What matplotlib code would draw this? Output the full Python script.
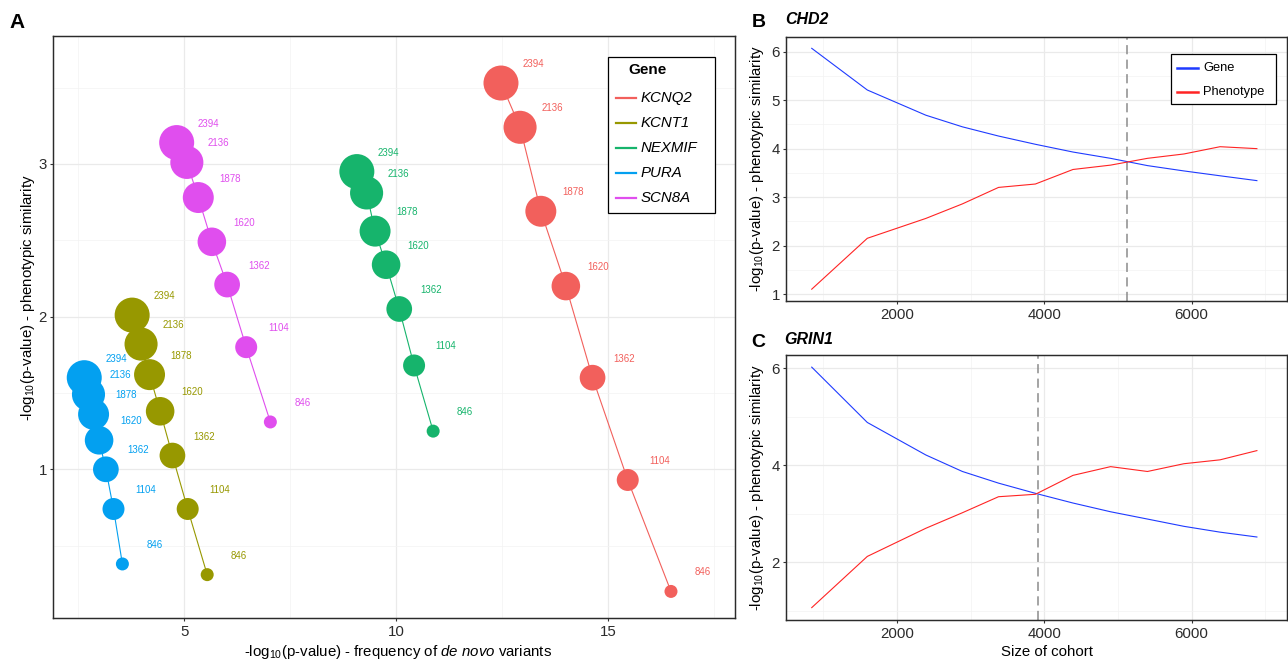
import numpy as np
import matplotlib
matplotlib.use("Agg")
import matplotlib.pyplot as plt
from matplotlib.lines import Line2D
from matplotlib.patches import Rectangle
from matplotlib.ticker import FixedLocator

plt.rcParams.update({
    "font.family": ["Liberation Sans", "DejaVu Sans"],
    "mathtext.fontset": "custom",
    "mathtext.rm": "Liberation Sans",
    "mathtext.it": "Liberation Sans:italic",
    "mathtext.bf": "Liberation Sans:bold",
})

# ---------------- Panel A data ----------------
cohort_sizes = [846, 1104, 1362, 1620, 1878, 2136, 2394]
genes = ["KCNQ2", "KCNT1", "NEXMIF", "PURA", "SCN8A"]
gene_colors = ["#F2605C", "#979800", "#16B46C", "#03A0F0", "#E04EEE"]

kcnq2_freq = [16.48, 15.46, 14.63, 14.00, 13.41, 12.92, 12.47]
kcnq2_pheno = [0.20, 0.93, 1.60, 2.20, 2.69, 3.24, 3.53]
kcnt1_freq = [5.54, 5.08, 4.72, 4.43, 4.18, 3.98, 3.77]
kcnt1_pheno = [0.31, 0.74, 1.09, 1.38, 1.62, 1.82, 2.01]
nexmif_freq = [10.87, 10.42, 10.07, 9.76, 9.50, 9.30, 9.07]
nexmif_pheno = [1.25, 1.68, 2.05, 2.34, 2.56, 2.81, 2.95]
pura_freq = [3.54, 3.33, 3.15, 2.99, 2.86, 2.74, 2.64]
pura_pheno = [0.38, 0.74, 1.00, 1.19, 1.36, 1.49, 1.60]
scn8a_freq = [7.03, 6.46, 6.01, 5.65, 5.33, 5.06, 4.82]
scn8a_pheno = [1.31, 1.80, 2.21, 2.49, 2.78, 3.01, 3.14]

freq_all = [kcnq2_freq, kcnt1_freq, nexmif_freq, pura_freq, scn8a_freq]
pheno_all = [kcnq2_pheno, kcnt1_pheno, nexmif_pheno, pura_pheno, scn8a_pheno]

# ---------------- Panels B / C data ----------------
cohort_bc = [846, 1600, 2394, 2890, 3380, 3880, 4390, 4900, 5400, 5895, 6385, 6885]
chd2_gene = [6.07, 5.21, 4.69, 4.45, 4.26, 4.09, 3.93, 3.80, 3.65, 3.54, 3.44, 3.34]
chd2_pheno = [1.10, 2.15, 2.56, 2.86, 3.20, 3.27, 3.57, 3.66, 3.80, 3.89, 4.04, 4.00]
chd2_cross = 5120
grin1_gene = [6.02, 4.88, 4.21, 3.87, 3.63, 3.42, 3.22, 3.04, 2.89, 2.74, 2.62, 2.52]
grin1_pheno = [1.065, 2.12, 2.70, 3.02, 3.35, 3.40, 3.79, 3.97, 3.87, 4.03, 4.11, 4.30]
grin1_cross = 3915
series_labels = ["Gene", "Phenotype"]
series_colors = ["#1F3BFF", "#FF2424"]

W, H = 1288, 663
fig = plt.figure(figsize=(W / 100, H / 100), dpi=100)


def fx(px):
    return px / W


def fy(py):
    return 1 - py / H


def axes_px(l, t, r, b):
    return fig.add_axes([fx(l), fy(b), (r - l) / W, (b - t) / H])


def style(ax):
    ax.set_facecolor("white")
    for s in ax.spines.values():
        s.set_color("#2B2B2B")
        s.set_linewidth(1.05)
    ax.grid(which="major", color="#EAEAEA", lw=0.9)
    ax.grid(which="minor", color="#F3F3F3", lw=0.5)
    ax.set_axisbelow(True)
    ax.tick_params(which="major", length=2.5, width=0.8, color="#333333",
                   labelsize=10.8, labelcolor="#2B2B2B", pad=2.2)
    ax.tick_params(which="minor", length=0)


ylab = r"-log$_{10}$(p-value) - phenotypic similarity"

# ---------------- Panel A ----------------
axA = axes_px(53.3, 35.7, 735, 618.3)
style(axA)
axA.set_xlim(1.91, 17.99)
axA.set_ylim(0.024, 3.84)
axA.xaxis.set_major_locator(FixedLocator([5, 10, 15]))
axA.xaxis.set_minor_locator(FixedLocator([2.5, 7.5, 12.5, 17.5]))
axA.yaxis.set_major_locator(FixedLocator([1, 2, 3]))
axA.yaxis.set_minor_locator(FixedLocator([0.5, 1.5, 2.5, 3.5]))


def diam_px(v):
    return 13 + 22 * np.sqrt((v - 846) / (2394 - 846))


sizes = [(diam_px(v) * 0.72) ** 2 for v in cohort_sizes]

for g, col, xs, ys in zip(genes, gene_colors, freq_all, pheno_all):
    axA.plot(xs, ys, color=col, lw=0.8, zorder=2)
    axA.scatter(xs, ys, s=sizes, color=col, edgecolors="none", zorder=3)
    for x, y, c in zip(xs, ys, cohort_sizes):
        axA.annotate(str(c), (x, y), xytext=(32, 19), textcoords="offset pixels",
                     ha="center", va="center", fontsize=7, color=col, zorder=4)

axA.set_xlabel(r"-log$_{10}$(p-value) - frequency of $\mathit{de\ novo}$ variants",
               fontsize=10.8)
axA.xaxis.set_label_coords(0.505, -(643 - 618.3) / 582.6)
axA.set_ylabel(ylab, fontsize=10.8)
axA.yaxis.set_label_coords((37 - 53.3) / 681.7, (618.3 - 298) / 582.6)

# legend A (drawn in figure pixel space)
fig.add_artist(Rectangle((fx(608.3), fy(212.7)), (715 - 608.3) / W, (212.7 - 57.3) / H,
                         transform=fig.transFigure, facecolor="white",
                         edgecolor="black", lw=0.9, zorder=10))
fig.text(fx(628), fy(70), "Gene", fontsize=11, fontweight="bold", va="center",
         ha="left", zorder=11)
for i, (g, col) in enumerate(zip(genes, gene_colors)):
    yy = 98.3 + 25 * i
    fig.add_artist(Line2D([fx(616), fx(635.7)], [fy(yy), fy(yy)], color=col, lw=1.6,
                          transform=fig.transFigure, zorder=11))
    fig.text(fx(641), fy(yy), g, fontsize=10.8, style="italic", va="center",
             ha="left", zorder=11)

# ---------------- Panels B and C ----------------
def bc_panel(ax, gene, pheno, cross, ylim, ymaj, ymin):
    style(ax)
    ax.set_xlim(501, 7292)
    ax.set_ylim(*ylim)
    ax.xaxis.set_major_locator(FixedLocator([2000, 4000, 6000]))
    ax.xaxis.set_minor_locator(FixedLocator([1000, 3000, 5000, 7000]))
    ax.yaxis.set_major_locator(FixedLocator(ymaj))
    ax.yaxis.set_minor_locator(FixedLocator(ymin))
    ax.plot(cohort_bc, gene, color=series_colors[0], lw=0.8, zorder=3)
    ax.plot(cohort_bc, pheno, color=series_colors[1], lw=0.8, zorder=3)
    ax.axvline(cross, color="#8C8C8C", lw=1.1, linestyle=(0, (6, 3.5)), zorder=2)
    ax.set_ylabel(ylab, fontsize=10.8)
    ax.yaxis.set_label_coords((766 - 786.3) / 500.6, 0.5)


axB = axes_px(786.3, 36.7, 1286.9, 301)
bc_panel(axB, chd2_gene, chd2_pheno, chd2_cross, (0.856, 6.31),
         [1, 2, 3, 4, 5, 6], [1.5, 2.5, 3.5, 4.5, 5.5])

axC = axes_px(786.3, 355, 1286.9, 620)
bc_panel(axC, grin1_gene, grin1_pheno, grin1_cross, (0.81, 6.27),
         [2, 4, 6], [1, 3, 5])
axC.set_xlabel("Size of cohort", fontsize=10.8)
axC.xaxis.set_label_coords(0.52, -(645 - 620) / 265)

# legend B
fig.add_artist(Rectangle((fx(1171), fy(104.3)), (1276 - 1171) / W, (104.3 - 54.3) / H,
                         transform=fig.transFigure, facecolor="white",
                         edgecolor="black", lw=0.9, zorder=10))
for yy, lab, col in zip([68, 92.3], series_labels, series_colors):
    fig.add_artist(Line2D([fx(1176.7), fx(1197.7)], [fy(yy), fy(yy)], color=col, lw=1.8,
                          transform=fig.transFigure, zorder=11))
    fig.text(fx(1203), fy(yy), lab, fontsize=9.3, va="center", ha="left", zorder=11)

# panel letters and titles
fig.text(fx(9), fy(28), "A", fontsize=15, fontweight="bold", va="baseline")
fig.text(fx(752), fy(27.3), "B", fontsize=14, fontweight="bold", va="baseline")
fig.text(fx(785.5), fy(23.5), "CHD2", fontsize=11.5, fontweight="bold",
         style="italic", va="baseline")
fig.text(fx(751.5), fy(346.7), "C", fontsize=14, fontweight="bold", va="baseline")
fig.text(fx(784), fy(343.5), "GRIN1", fontsize=11.5, fontweight="bold",
         style="italic", va="baseline")

fig.savefig("out.png", dpi=100, facecolor="white")
